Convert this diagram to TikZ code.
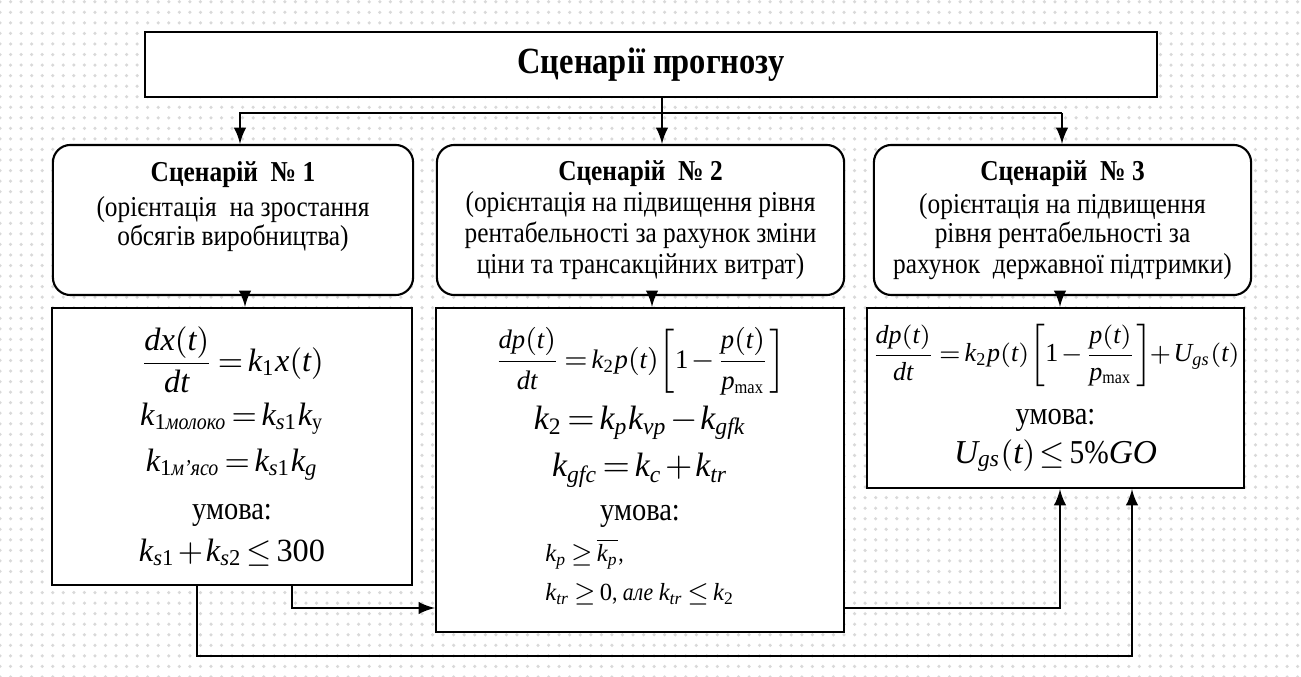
\documentclass[tikz,border=0pt]{standalone}
\usepackage{amsmath}
\usepackage{mathspec}
\setmainfont{Liberation Serif}[FakeStretch=0.88]
\setmathsfont(Digits,Latin)[Uppercase=Italic,Lowercase=Italic]{Liberation Serif}
\usetikzlibrary{patterns}

\tikzset{
  box/.style={draw, rectangle, fill=white, line width=0.6pt, align=center, inner sep=1pt},
  rbox/.style={box, rounded corners=5pt, font=\fontsize{8.2}{8.3}\selectfont},
  mbox/.style={box, font=\fontsize{9.2}{10.5}\selectfont},
  link/.style={line width=0.6pt}
}

\begin{document}
\medmuskip=1.5mu
\thickmuskip=2.5mu
\begin{tikzpicture}[x=0.01cm, y=-0.01cm, >=latex]
            % Background
            \useasboundingbox (0,0) rectangle (1301,677);
            \fill[white] (0,0) rectangle (1301,677);
            \fill[pattern=dots, pattern color=gray!30] (0,0) rectangle (1301,677);

            % Title
            \node[box, minimum width=10.12cm, minimum height=0.65cm, font=\fontsize{10.5}{11}\selectfont\bfseries] (s0) at (651,64.5) {Сценарії прогнозу};

            % Scenarios
            \node[rbox, minimum width=3.6cm, minimum height=1.5cm] (s1) at (233,220) {\textbf{Сценарій~~№~1}\\[1.5pt] (орієнтація~ на зростання\\ обсягів виробництва)\\[1pt] \mbox{}};
            \node[rbox, minimum width=4.07cm, minimum height=1.5cm] (s2) at (640.5,220) {\textbf{Сценарій~~№~2}\\[0.5pt] (орієнтація на підвищення рівня\\[0.6pt] рентабельності за рахунок зміни\\[0.6pt] ціни та трансакційних витрат)};
            \node[rbox, minimum width=3.77cm, minimum height=1.5cm] (s3) at (1062.5,220) {\textbf{Сценарій~~№~3}\\[1pt] (орієнтація на підвищення\\ рівня рентабельності за\\[0.5pt] рахунок~ державної підтримки)};

            % Models
            \node[mbox, minimum width=3.6cm, minimum height=2.77cm] (m1) at (232,446.5) {%
              $\dfrac{dx(t)}{dt}=k_1x(t)$\\[2pt]
              $k_{1\text{\itshape молоко}}=k_{s1}k_{\text{у}}$\\[2.5pt]
              $k_{1\text{\itshape м'ясо}}=k_{s1}k_g$\\[3pt]
              умова:\\[1.5pt]
              $k_{s1}+k_{s2}\le 300$};
            \node[mbox, minimum width=4.08cm, minimum height=3.24cm] (m2) at (640,470) {%
              {\fontsize{7.6}{8}\selectfont$\dfrac{dp(t)}{dt}=k_2p(t)\!\left[1-\dfrac{p(t)}{p_{\text{max}}}\right]$}\\[2pt]
              {\fontsize{9.6}{11}\selectfont$k_2=k_pk_{vp}-k_{gfk}$}\\[3pt]
              {\fontsize{9.6}{11}\selectfont$k_{gfc}=k_c+k_{tr}$}\\[2pt]
              умова:\\[1pt]
              {\fontsize{7}{11}\selectfont\begin{tabular}{@{}l@{}}
                $k_p\ge\overline{k_p}$,\\
                $k_{tr}\ge 0$, \textit{але} $k_{tr}\le k_2$
              \end{tabular}}};
            \node[mbox, minimum width=3.77cm, minimum height=1.8cm] (m3) at (1055.5,398) {%
              {\fontsize{7.4}{8}\selectfont$\dfrac{dp(t)}{dt}=k_2p(t)\!\left[1-\dfrac{p(t)}{p_{\text{max}}}\right]\!+U_{gs}(t)$}\\[5.5pt]
              умова:\\[0.5pt]
              {\fontsize{9.5}{10}\selectfont$U_{gs}(t)\le\text{5\%}GO$}};

            % Junctions
            \coordinate (t0) at (662,113);
            \coordinate (t1) at (240,113);
            \coordinate (t3) at (1062,113);
            \coordinate (d1) at (245,0);
            \coordinate (d2) at (652,0);
            \coordinate (d3) at (1060,0);
            \coordinate (b1) at (292,608);
            \coordinate (b2) at (197,656);
            \coordinate (u1) at (1060,608);
            \coordinate (u2) at (1132,656);

            % Title to scenarios
            \draw[link, ->] (s0.south -| t0) -- (s2.north -| t0);
            \draw[link, ->] (t3) -- (t1) -- (s1.north -| t1);
            \draw[link, ->] (t3) -- (s3.north -| t3);

            % Scenarios to models
            \draw[link, ->] (d1 |- s1.south) -- (d1 |- m1.north);
            \draw[link, ->] (d2 |- s2.south) -- (d2 |- m2.north);
            \draw[link, ->] (d3 |- s3.south) -- (d3 |- m3.north);

            % Model links
            \draw[link, ->] (b1 |- m1.south) -- (b1) -- (b1 -| m2.west);
            \draw[link, ->] (b2 |- m1.south) -- (b2) -- (u2) -- (u2 |- m3.south);
            \draw[link, ->] (u1 -| m2.east) -- (u1) -- (u1 |- m3.south);
\end{tikzpicture}
\end{document}
